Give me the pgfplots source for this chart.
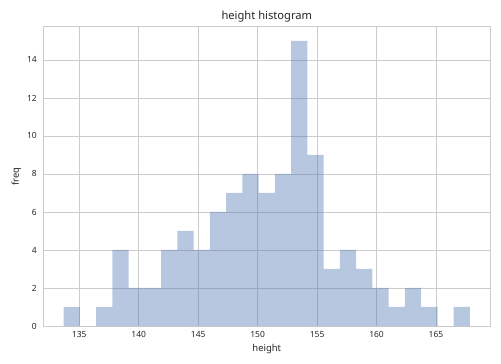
\documentclass[border=0pt]{standalone}
\usepackage{pgfplots}
\pgfplotsset{compat=1.18}
\usepackage{fontspec}
\setmainfont{Noto Sans}
\usetikzlibrary{calc}
\definecolor{gridc}{gray}{0.8}
\definecolor{txt}{gray}{0.15}
\definecolor{barc}{HTML}{4C72B0}
\begin{document}
\begin{tikzpicture}
\begin{axis}[
  scale only axis,
  width=447bp, height=299.3bp,
  xmin=131.97, xmax=169.57,
  ymin=0, ymax=15.75,
  xtick={135,140,...,165},
  ytick={0,2,...,14},
  major tick length=0pt,
  grid=major,
  major grid style={gridc, line width=0.8pt},
  axis line style={gridc, line width=0.8pt},
  axis on top=false,
  tick label style={font=\fontsize{8.5}{10}\selectfont, txt},
  /pgf/number format/assume math mode=true,
  xticklabel style={yshift=-2bp},
  yticklabel style={xshift=-3bp},
  xlabel={height}, ylabel={freq},
  label style={font=\fontsize{9.5}{11}\selectfont, txt},
  xlabel style={yshift=0bp},
  ylabel style={yshift=-1bp},
  title={height histogram},
  title style={font=\fontsize{11.2}{13}\selectfont, txt, yshift=-5bp},
]
\addplot[ybar interval, fill=barc, fill opacity=0.4, draw=none] coordinates {
(133.68,1) (135.05,0) (136.41,1) (137.78,4) (139.15,2) (140.52,2) (141.88,4)
(143.25,5) (144.62,4) (145.98,6) (147.35,7) (148.72,8) (150.09,7) (151.45,8)
(152.82,15) (154.19,9) (155.56,3) (156.92,4) (158.29,3) (159.66,2) (161.02,1)
(162.39,2) (163.76,1) (165.13,0) (166.49,1) (167.86,1)
};
\end{axis}
\path[use as bounding box] ($(current axis.south west)+(-43.3bp,-38bp)$) rectangle ++(501bp,364bp);
\end{tikzpicture}
\end{document}
